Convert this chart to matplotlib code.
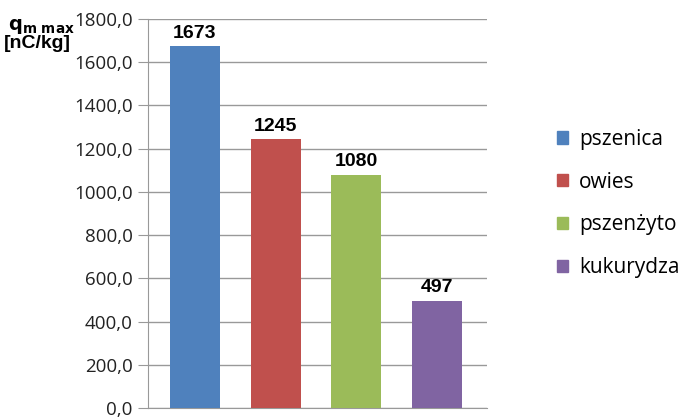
import matplotlib
matplotlib.use("Agg")
import matplotlib.pyplot as plt
from matplotlib.patches import Patch

categories = ["pszenica", "owies", "pszenżyto", "kukurydza"]
values = [1673, 1245, 1080, 497]
colors = ["#4F81BD", "#C0504D", "#9BBB59", "#8064A2"]
yticks = [0, 200, 400, 600, 800, 1000, 1200, 1400, 1600, 1800]
ytick_labels = ["0,0", "200,0", "400,0", "600,0", "800,0", "1000,0", "1200,0", "1400,0", "1600,0", "1800,0"]

plt.rcParams['font.family'] = ['Open Sans', 'DejaVu Sans']

fig = plt.figure(figsize=(7, 4.18), dpi=100)
ax = fig.add_axes([148/700, 10/418, (487-148)/700, (408-19)/418])

x = list(range(len(categories)))
ax.bar(x, values, width=0.62, color=colors, zorder=3)
for xi, v in zip(x, values):
    ax.text(xi, v + 20, f"{v}", ha="center", va="bottom", fontsize=14,
            fontweight="bold", family="Liberation Sans", zorder=4)

ax.set_xlim(-0.58, 3.62)
ax.set_ylim(0, 1800)
ax.set_yticks(yticks)
ax.set_yticklabels(ytick_labels, fontsize=13.5, color="#222222")
ax.set_xticks([])
ax.yaxis.grid(True, color="#999999", linewidth=1, zorder=0)
for s in ["top", "right"]:
    ax.spines[s].set_visible(False)
ax.spines["left"].set_color("#999999")
ax.spines["bottom"].set_color("#999999")
ax.tick_params(axis="y", length=7, color="#999999", pad=4)
for lbl in ax.get_yticklabels():
    lbl.set_verticalalignment("center_baseline")

fig.text(0.012, 1 - 26/418, r"$\mathbf{q}_{\mathbf{m\ max}}$", fontsize=14,
         ha="left", va="center", family="Liberation Sans")
fig.text(0.006, 1 - 44/418, "[nC/kg]", fontsize=14, fontweight="bold",
         ha="left", va="center", family="Liberation Sans")

handles = [Patch(facecolor=c, edgecolor=c) for c in colors]
leg = fig.legend(handles, categories, loc="center left", bbox_to_anchor=(557/700, 1 - 203.5/418),
                 frameon=False, fontsize=15, handlelength=0.55, handleheight=0.55,
                 labelspacing=1.05, handletextpad=0.5, borderpad=0, borderaxespad=0)

fig.savefig("out.png", dpi=100)
